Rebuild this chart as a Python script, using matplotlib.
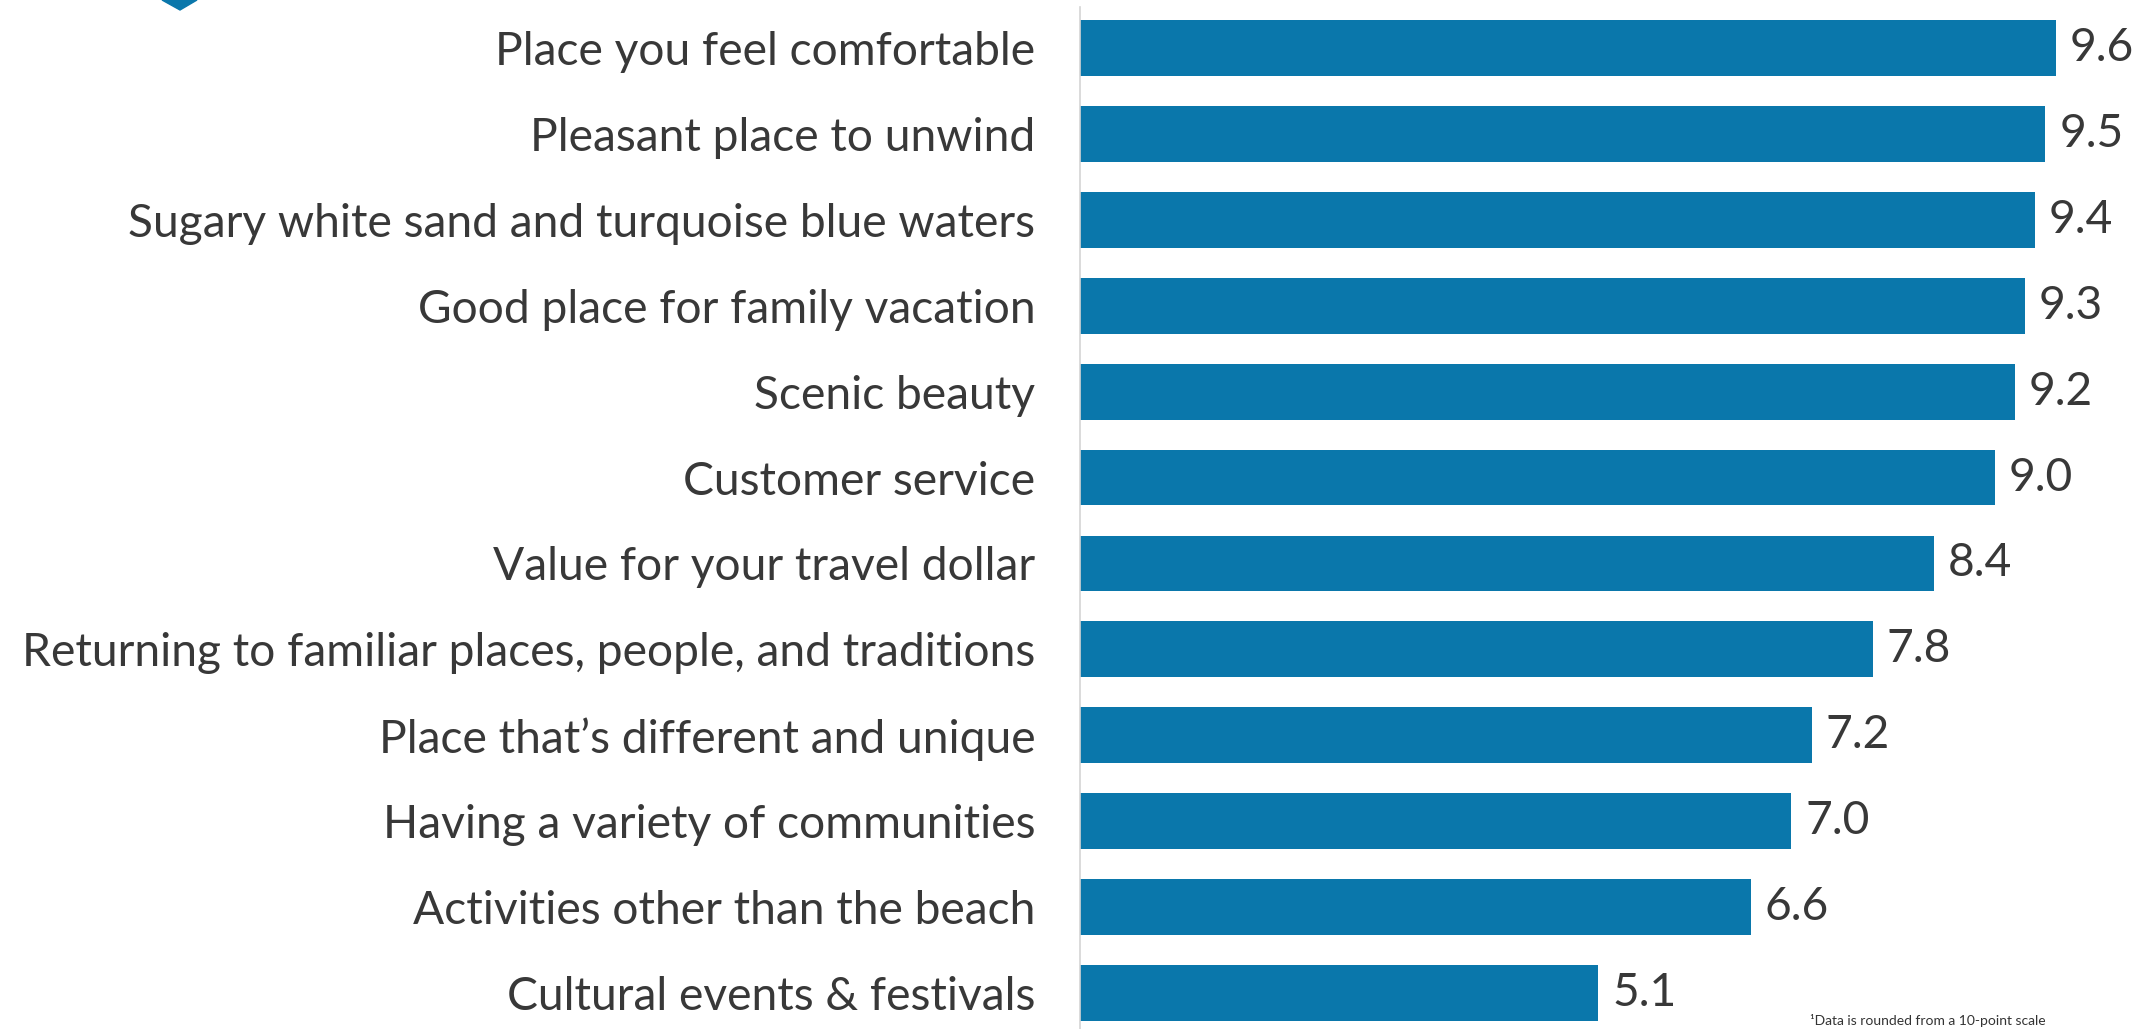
import matplotlib.pyplot as plt
from matplotlib.patches import Polygon

# data
labels = ['Place you feel comfortable', 'Pleasant place to unwind',
          'Sugary white sand and turquoise blue waters', 'Good place for family vacation',
          'Scenic beauty', 'Customer service', 'Value for your travel dollar',
          'Returning to familiar places, people, and traditions',
          'Place that\u2019s different and unique', 'Having a variety of communities',
          'Activities other than the beach', 'Cultural events & festivals']
scores = [9.6, 9.5, 9.4, 9.3, 9.2, 9.0, 8.4, 7.8, 7.2, 7.0, 6.6, 5.1]

plt.rcParams['font.family'] = ['Lato', 'DejaVu Sans']
bar_color = '#0a77ab'
text_color = '#383838'
fs = 33.2

fig = plt.figure(figsize=(21.47, 10.29), dpi=100)
ax = fig.add_axes([0.503, 0.0, 0.497, 1.0])

pos = list(range(len(labels)))
ax.barh(pos, scores, height=0.65, color=bar_color)

for p, v in zip(pos, scores):
    ax.annotate(f'{v:.1f}', (v, p), xytext=(10, 0), textcoords='offset points',
                va='center', ha='left', fontsize=fs, color=text_color)

ax.set_xlim(0, 10.5)
ax.set_ylim(11.42, -0.56)
ax.set_yticks(pos)
ax.set_yticklabels(labels, fontsize=fs, color=text_color)
ax.tick_params(axis='y', length=0, pad=32)
ax.set_xticks([])
for s in ['top', 'right', 'bottom']:
    ax.spines[s].set_visible(False)
ax.spines['left'].set_color('#d4d4d4')
ax.spines['left'].set_linewidth(1.2)
ax.spines['left'].set_bounds(11.42, -0.48)

# small blue marker cut off at top left
fig.patches.append(Polygon([(162 / 2147, 1.0), (197 / 2147, 1.0), (180 / 2147, 1 - 10 / 1029)],
                           closed=True, transform=fig.transFigure, color=bar_color))

# footnote at the bottom edge
fig.text(1810 / 2147, 0.002, '\u00b9Data is rounded from a 10-point scale', fontsize=10,
         color='#333333', va='bottom', ha='left')

plt.savefig('out.png', dpi=100)
